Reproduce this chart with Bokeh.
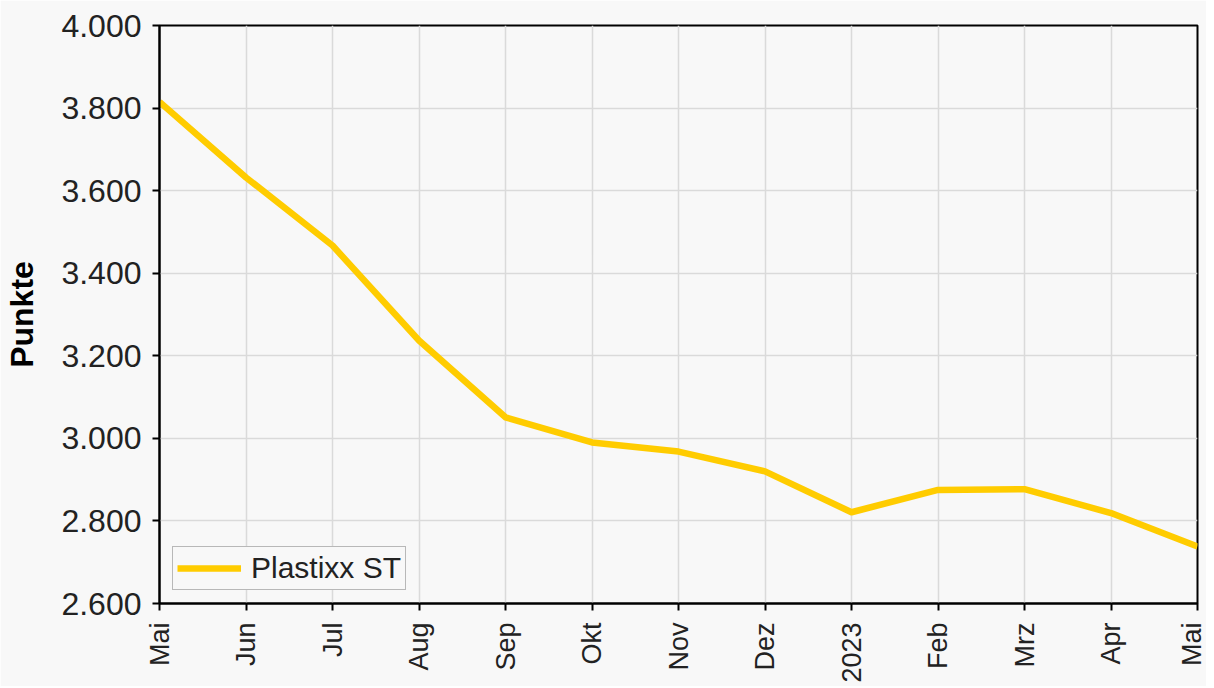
import math
from bokeh.plotting import figure
from bokeh.models import FixedTicker, Range1d, Legend, LegendItem
from bokeh.embed import file_html
from bokeh.resources import INLINE

months = ["Mai", "Jun", "Jul", "Aug", "Sep", "Okt", "Nov", "Dez", "2023", "Feb", "Mrz", "Apr", "Mai"]
values = [3815, 3632, 3467, 3237, 3051, 2990, 2968, 2920, 2821, 2875, 2877, 2819, 2738]
series_name = "Plastixx ST"
y_ticks = [2600, 2800, 3000, 3200, 3400, 3600, 3800, 4000]
y_tick_labels = ["2.600", "2.800", "3.000", "3.200", "3.400", "3.600", "3.800", "4.000"]

xs = list(range(len(months)))
bg = "#f8f8f8"

p = figure(width=1206, height=686, output_backend="svg", toolbar_location=None,
           x_range=Range1d(0, len(months) - 1), y_range=Range1d(2600, 4000),
           background_fill_color=bg, border_fill_color=bg,
           min_border_left=159, min_border_top=25, min_border_right=9, min_border_bottom=83)

r = p.line(xs, values, line_color="#ffcc00", line_width=6.5, line_join="round")

p.xaxis.ticker = FixedTicker(ticks=xs)
p.xaxis.major_label_overrides = {i: m for i, m in enumerate(months)}
p.xaxis.major_label_orientation = math.pi / 2
p.yaxis.ticker = FixedTicker(ticks=y_ticks)
p.yaxis.major_label_overrides = {t: l for t, l in zip(y_ticks, y_tick_labels)}

for ax in (p.xaxis[0], p.yaxis[0]):
    ax.axis_line_color = "#000000"
    ax.axis_line_width = 2
    ax.major_tick_line_color = "#000000"
    ax.major_tick_line_width = 2
    ax.major_tick_out = 7
    ax.major_tick_in = 0
    ax.minor_tick_line_color = None
    ax.major_label_text_font = "Liberation Sans"
    ax.major_label_text_color = "#222222"

p.yaxis.major_label_text_font_size = "32px"
p.yaxis.major_label_standoff = 11
p.xaxis.major_label_text_font_size = "27px"
p.xaxis.major_label_standoff = 12
p.yaxis.axis_label = "Punkte"
p.yaxis.axis_label_text_font = "Liberation Sans"
p.yaxis.axis_label_text_font_size = "32px"
p.yaxis.axis_label_text_font_style = "bold"
p.yaxis.axis_label_text_color = "#000000"
p.yaxis.axis_label_standoff = 18

p.xgrid.grid_line_color = "#dadada"
p.ygrid.grid_line_color = "#dadada"
p.xgrid.grid_line_width = 1.5
p.ygrid.grid_line_width = 1.5

p.outline_line_color = "#000000"
p.outline_line_width = 2

legend = Legend(items=[LegendItem(label=series_name, renderers=[r])],
                location=(13, 13), orientation="vertical")
legend.background_fill_color = bg
legend.background_fill_alpha = 1
legend.border_line_color = "#777777"
legend.border_line_width = 1.5
legend.label_text_font = "Liberation Sans"
legend.label_text_font_size = "30px"
legend.label_text_color = "#222222"
legend.glyph_width = 64
legend.glyph_height = 30
legend.padding = 4
legend.margin = 0
legend.spacing = 0
legend.label_standoff = 10
p.add_layout(legend, "center")

open("out.html", "w").write(file_html(p, INLINE))
